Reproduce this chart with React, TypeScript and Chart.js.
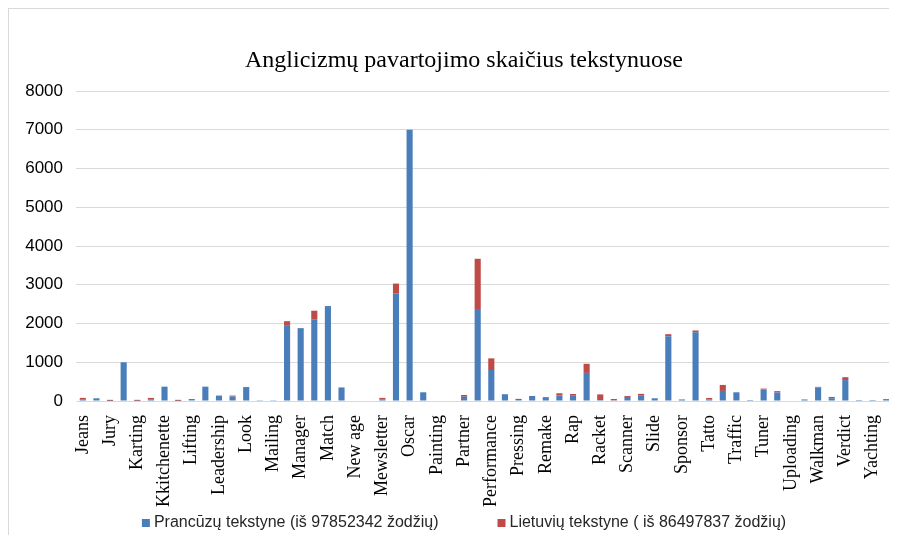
import React, { useEffect, useRef } from "react";
import { Chart, registerables } from "chart.js";

Chart.register(...registerables);

const TITLE = "Anglicizmų pavartojimo skaičius tekstynuose";

// 60 categories; only every second one is labelled in the original
const categories: string[] = [
  "Jeans", "", "Jury", "", "Karting", "", "Kkitchenette", "", "Lifting", "",
  "Leadership", "", "Look", "", "Mailing", "", "Manager", "", "Match", "",
  "New age", "", "Mewsletter", "", "Oscar", "", "Painting", "", "Partner", "",
  "Performance", "", "Pressing", "", "Remake", "", "Rap", "", "Racket", "",
  "Scanner", "", "Slide", "", "Sponsor", "", "Tatto", "", "Traffic", "",
  "Tuner", "", "Uploading", "", "Walkman", "", "Verdict", "", "Yachting", "",
];

const frenchLabel = "Prancūzų tekstyne (iš 97852342 žodžių)";
const lithuanianLabel = "Lietuvių tekstyne ( iš 86497837 žodžių)";

const frenchValues: number[] = [
  45, 70, 5, 1000, 5, 45, 370, 5, 25, 370,
  140, 115, 360, 20, 20, 1940, 1880, 2110, 2450, 350,
  0, 0, 35, 2770, 7000, 225, 0, 0, 110, 2350,
  800, 175, 25, 130, 100, 145, 150, 725, 25, 17,
  105, 150, 70, 1670, 40, 1775, 43, 260, 225, 25,
  295, 220, 0, 40, 345, 70, 540, 25, 25, 50,
];

const lithuanianValues: number[] = [
  35, 0, 25, 0, 25, 35, 0, 25, 25, 0,
  0, 25, 0, 0, 0, 120, 0, 220, 0, 0,
  0, 0, 45, 260, 0, 0, 0, 0, 45, 1320,
  300, 0, 30, 0, 0, 55, 30, 235, 145, 35,
  25, 35, 0, 55, 0, 45, 35, 155, 0, 0,
  25, 35, 0, 0, 20, 35, 75, 0, 0, 0,
];

const yMin = 0;
const yMax = 8000;
const yStep = 1000;

const BLUE = "#4A7EBB";
const RED = "#BE4B48";

const CANVAS_W = 887;
const CANVAS_H = 526;

const titlePlugin = {
  id: "customTitle",
  afterDraw(chart: any) {
    const ctx = chart.ctx as CanvasRenderingContext2D;
    ctx.save();
    ctx.font = "24px 'Liberation Serif', 'Times New Roman', serif";
    ctx.fillStyle = "#000";
    ctx.textAlign = "center";
    ctx.textBaseline = "middle";
    ctx.fillText(TITLE, 455, 52);
    ctx.restore();
  },
};

const legendPlugin = {
  id: "customLegend",
  afterDraw(chart: any) {
    const ctx = chart.ctx as CanvasRenderingContext2D;
    ctx.save();
    ctx.font = "16px 'Liberation Sans', Arial, sans-serif";
    ctx.textBaseline = "middle";
    ctx.textAlign = "left";
    const items = chart.data.datasets.map((d: any) => ({
      text: d.label as string,
      color: d.backgroundColor as string,
    }));
    const box = 8;
    const gapBox = 4;
    const gapItems = 59;
    const widths = items.map((it: any) => box + gapBox + ctx.measureText(it.text).width);
    const total = widths.reduce((a: number, b: number) => a + b, 0) + gapItems * (items.length - 1);
    let x = 455 - total / 2;
    const y = 514;
    items.forEach((it: any, i: number) => {
      ctx.fillStyle = it.color;
      ctx.fillRect(x, y - 4, box, box);
      ctx.fillStyle = "#262626";
      ctx.fillText(it.text, x + box + gapBox, y);
      x += widths[i] + gapItems;
    });
    ctx.restore();
  },
};

export default function App() {
  const canvasRef = useRef<HTMLCanvasElement | null>(null);

  useEffect(() => {
    if (!canvasRef.current) return;
    const chart = new Chart(canvasRef.current, {
      type: "bar",
      data: {
        labels: categories,
        datasets: [
          {
            label: frenchLabel,
            data: frenchValues,
            backgroundColor: BLUE,
            barPercentage: 0.45,
            categoryPercentage: 1.0,
          },
          {
            label: lithuanianLabel,
            data: lithuanianValues,
            backgroundColor: RED,
            barPercentage: 0.45,
            categoryPercentage: 1.0,
          },
        ],
      },
      options: {
        responsive: false,
        animation: false,
        devicePixelRatio: 1,
        layout: { padding: { left: 5, right: 3, top: 82, bottom: 20 } },
        plugins: {
          legend: { display: false },
          tooltip: { enabled: false },
          title: { display: false },
        },
        scales: {
          x: {
            stacked: true,
            grid: { display: false },
            border: { display: false },
            ticks: {
              autoSkip: false,
              maxRotation: 90,
              minRotation: 90,
              padding: 6,
              color: "#000",
              font: { family: "'Liberation Serif', 'Times New Roman', serif", size: 18 },
            },
            afterFit: (s: any) => {
              s.height = 114;
              s.paddingLeft = 0;
              s.paddingRight = 0;
            },
          },
          y: {
            stacked: true,
            min: yMin,
            max: yMax,
            grid: { color: "#d9d9d9", drawTicks: false, lineWidth: 1 },
            border: { display: false },
            ticks: {
              stepSize: yStep,
              padding: 13,
              color: "#000",
              font: { family: "'Liberation Sans', Arial, sans-serif", size: 17 },
              callback: (v: any) => String(v),
            },
            afterFit: (s: any) => {
              s.width = 62;
            },
          },
        },
      },
      plugins: [titlePlugin, legendPlugin],
    });
    return () => chart.destroy();
  }, []);

  return (
    <div
      style={{
        width: 889,
        height: 527,
        boxSizing: "border-box",
        borderTop: "1px solid #d9d9d9",
        borderLeft: "1px solid #d9d9d9",
        borderRight: "1px solid #d9d9d9",
        background: "#fff",
      }}
    >
      <canvas
        ref={canvasRef}
        width={CANVAS_W}
        height={CANVAS_H}
        style={{ display: "block", width: CANVAS_W, height: CANVAS_H }}
      />
    </div>
  );
}
